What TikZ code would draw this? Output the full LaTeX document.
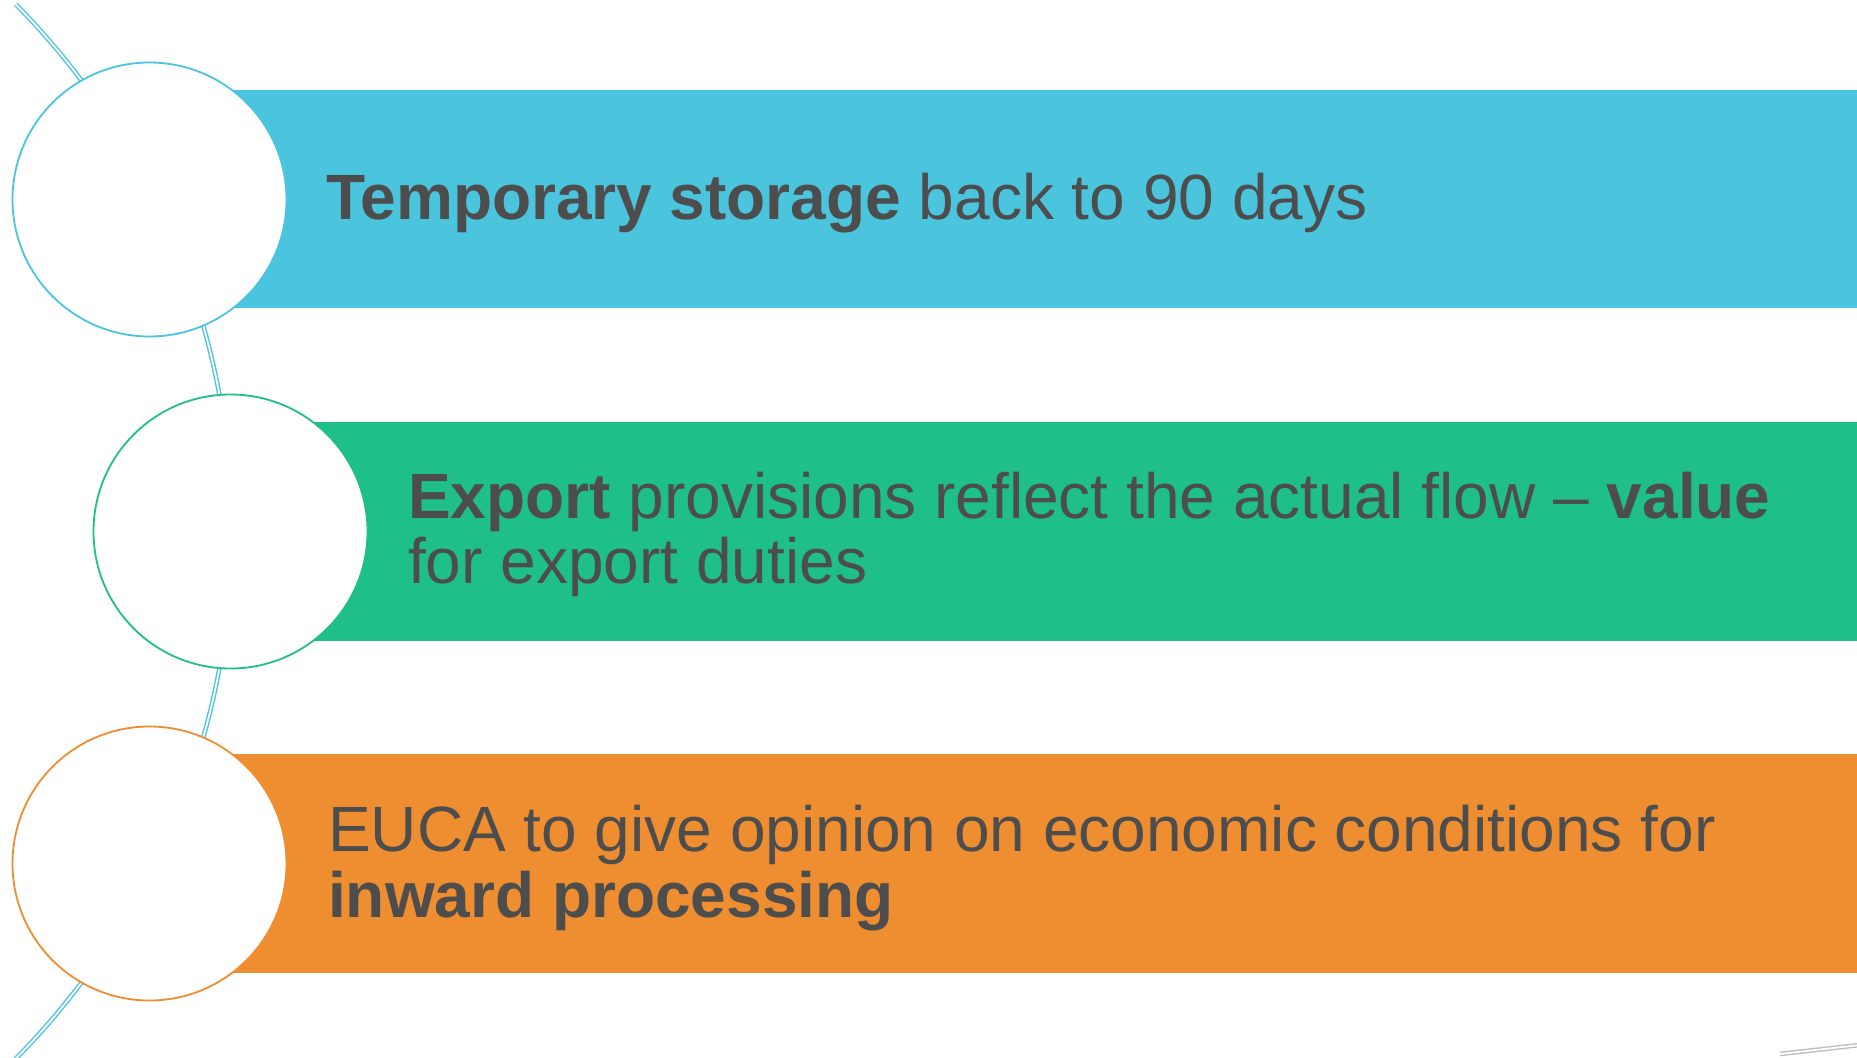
\documentclass[tikz,border=0pt]{standalone}
\usepackage{fontspec}
\setmainfont{Liberation Sans}
\definecolor{cblue}{HTML}{4BC4DE}
\definecolor{cgreen}{HTML}{1FBF8A}
\definecolor{corange}{HTML}{EE8E31}
\definecolor{ctext}{HTML}{4D4D4D}
\definecolor{cgray}{HTML}{BDBDBD}
\begin{document}
\begin{tikzpicture}[x=1pt,y=-1pt,
  band/.style={rectangle, draw=none, inner sep=0pt, anchor=north west},
  disc/.style={circle, fill=white, line width=1.8pt, inner sep=0pt, minimum size=274pt},
  txt/.style={text=ctext, inner sep=0pt, anchor=base west, font=\fontsize{64}{66}\selectfont},
  dline/.style={line width=1.4pt, double=white, double distance=1.8pt}]
\useasboundingbox (0,0) rectangle (1857,1057);
\clip (0,0) rectangle (1857,1057);
% decorative arc
\draw[dline, draw=cblue] (-519,531.5) ++(-44.6:751) arc[start angle=-44.6, end angle=44.6, radius=751];
\draw[dline, draw=cgray] (1780,1054) .. controls (1815,1050) .. (1860,1045);
% bands
\node[band, fill=cblue, minimum width=1710pt, minimum height=218pt] (b1) at (150,90) {};
\node[band, fill=cgreen, minimum width=1630pt, minimum height=219pt] (b2) at (230,422) {};
\node[band, fill=corange, minimum width=1710pt, minimum height=219pt] (b3) at (150,754) {};
% circles
\node[disc, draw=cblue] (c1) at (149.5,199.5) {};
\node[disc, draw=cgreen] (c2) at (230.5,531.5) {};
\node[disc, draw=corange] (c3) at (149.5,863.5) {};
% texts
\node[txt] (t1) at (326,219) {\textbf{Temporary storage} back to 90 days};
\node[txt] (t2a) at (408,518) {\textbf{Export} provisions reflect the actual flow – \textbf{value}};
\node[txt] (t2b) at (408,583) {for export duties};
\node[txt] (t3a) at (328,851) {EUCA to give opinion on economic conditions for};
\node[txt] (t3b) at (328,917) {\textbf{inward processing}};
\end{tikzpicture}
\end{document}
